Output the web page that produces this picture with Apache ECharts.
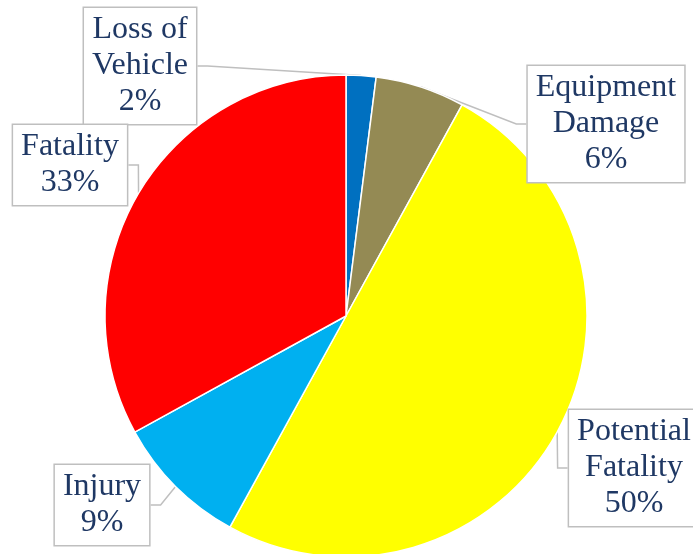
<!DOCTYPE html>
<html>
<head>
<meta charset="utf-8">
<script src="https://cdn.jsdelivr.net/npm/echarts@6/dist/echarts.min.js"></script>
<style>
  html, body { margin: 0; padding: 0; background: #fff; }
  #chart { width: 693px; height: 554px; }
</style>
</head>
<body>
<div id="chart"></div>
<script>
// categories, clockwise from 12 o'clock
const categories = ['Loss of\nVehicle', 'Equipment\nDamage', 'Potential\nFatality', 'Injury', 'Fatality']
const percents = [2, 6, 50, 9, 33]
const colors = ['#0070C0', '#948A54', '#FFFF00', '#00B0F0', '#FF0000']
// where each callout box sits (centre of box)
const labelSpots = [[140, 66], [606, 124], [634, 468], [102, 505], [70, 165]]

const chart = echarts.init(document.getElementById('chart'))

chart.setOption({
  animation: false,
  series: [
    {
      type: 'pie',
      center: [346, 316],
      radius: 241,
      startAngle: 90,
      clockwise: true,
      avoidLabelOverlap: false,
      itemStyle: {
        borderColor: '#fff',
        borderWidth: 1.5
      },
      label: {
        show: true,
        position: 'outside',
        formatter: '{b}\n{c}%',
        fontFamily: '"Liberation Serif", "Times New Roman", serif',
        fontSize: 32,
        lineHeight: 36,
        color: '#1F3864',
        align: 'center',
        backgroundColor: '#fff',
        borderColor: '#BFBFBF',
        borderWidth: 1.5,
        padding: [4, 8, 4, 8]
      },
      labelLine: {
        show: true,
        length: 10,
        length2: 10,
        lineStyle: { color: '#BFBFBF', width: 1.5 }
      },
      labelLayout: function (params) {
        const p = labelSpots[params.dataIndex]
        return { x: p[0], y: p[1], align: 'center', verticalAlign: 'middle' }
      },
      data: categories.map((name, i) => ({
        name: name,
        value: percents[i],
        itemStyle: { color: colors[i] }
      }))
    }
  ]
})
</script>
</body>
</html>
